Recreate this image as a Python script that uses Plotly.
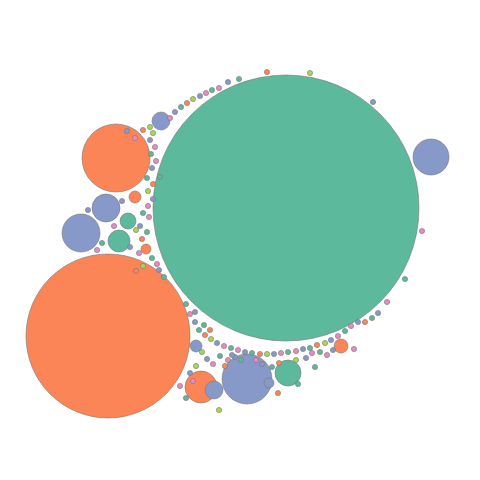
import plotly.graph_objects as go

# circle packing: centre x, centre y (pixels, y down), radius
big_x = [286, 108, 116, 431, 81, 106, 119, 128, 161, 135, 146, 247, 201, 288, 214, 341, 196, 269]
big_y = [208, 336, 158, 157, 233, 208, 241, 221, 121, 197, 249, 379, 387, 373, 390, 346, 346, 383]
big_r = [133, 82, 34, 18, 19, 14, 11, 8, 9, 6, 5, 25, 16, 13, 9, 7, 6, 5]
big_c = ["g", "o", "o", "b", "b", "b", "g", "g", "b", "o", "o", "b", "o", "g", "b", "o", "b", "b"]

small_xy = [
    (170,118),(175,112),(181,107),(187,103),(193,99),(200,96),(206,93),(212,90),(219,88),(228,82),
    (239,79),(267,72),(310,73),(373,102),(422,231),(405,279),(387,302),(378,313),(372,318),(365,322),
    (153,133),(150,140),(155,147),(151,154),(156,161),(152,168),(147,178),(153,184),(148,191),(153,199),
    (148,206),(143,213),(149,217),(140,226),(147,232),(142,239),(136,230),(130,247),(139,253),(152,258),
    (157,264),(159,270),(164,277),(136,271),(143,266),(122,201),(114,226),(102,243),(97,250),(88,210),
    (160,177),(143,130),(150,127),(127,131),(135,138),
    (186,304),(190,314),(195,322),(199,330),(205,335),(211,339),(217,343),(224,346),(231,348),(238,350),
    (245,352),(252,353),(260,354),(267,354),(274,354),(281,353),(288,352),(296,351),(303,349),(310,348),
    (317,345),(325,343),(331,340),(338,336),(345,331),(351,326),(358,322),(204,325),(210,330),(202,352),
    (207,359),(213,364),(220,356),(228,360),(235,357),(241,360),(225,366),(196,366),(190,373),(193,381),
    (186,398),(180,386),(262,364),(272,367),(279,363),(296,360),(306,358),(312,353),(320,352),(327,355),
    (333,350),(298,384),(278,393),(219,410),(232,355),(256,360),(315,367),(354,349),(195,312),
]
small_r = 2.6
small_cycle = ["p", "b", "g", "o", "y", "b", "p", "g"]

palette = {"g": "#5cb99c", "o": "#fc8558", "b": "#8799c8", "p": "#e78ac3", "y": "#a6d854"}

fig = go.Figure()
shapes = []
def circle(x, y, r, col):
    shapes.append(dict(type="circle", xref="x", yref="y", x0=x-r, x1=x+r, y0=y-r, y1=y+r,
                       fillcolor=palette[col], line=dict(color="#777777", width=0.6)))

for x, y, r, c in zip(big_x, big_y, big_r, big_c):
    circle(x, y, r, c)
for i, (x, y) in enumerate(small_xy):
    circle(x, y, small_r, small_cycle[i % len(small_cycle)])

fig.add_trace(go.Scatter(x=[8, 488], y=[8, 488], mode="markers", marker=dict(opacity=0), hoverinfo="skip"))
fig.update_layout(shapes=shapes, width=480, height=480, margin=dict(l=0, r=0, t=0, b=0),
                  plot_bgcolor="white", paper_bgcolor="white", showlegend=False)
# page body adds an 8px offset, so shift the ranges to line up
fig.update_xaxes(range=[8, 488], visible=False)
fig.update_yaxes(range=[488, 8], visible=False)
fig.write_html("out.html")
